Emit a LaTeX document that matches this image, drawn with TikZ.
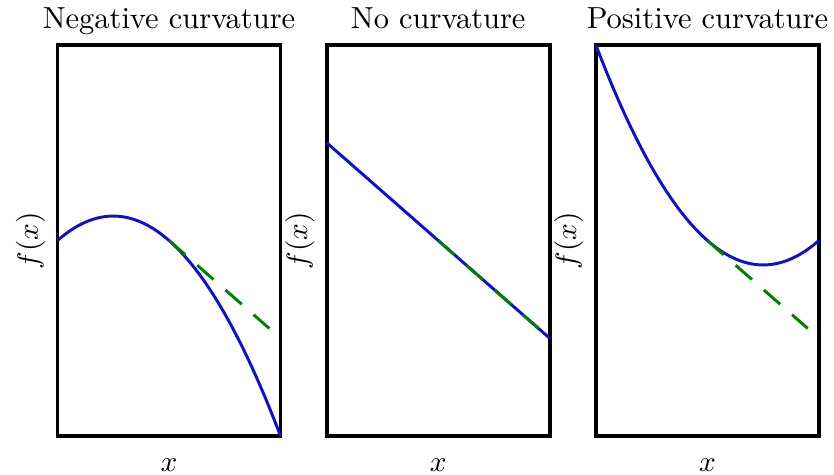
\documentclass[tikz,border=0pt]{standalone}
\definecolor{mplgreen}{RGB}{0,128,0}
\definecolor{mplblue}{RGB}{15,15,210}
\begin{document}
\begin{tikzpicture}[
	x=0.012cm, y=0.012cm,
	every node/.style={ font=\fontsize{10.4}{12.5}\selectfont },
	frame/.style={ draw, line width=1.3pt, inner sep=0pt, outer sep=0pt, minimum width=2.676cm, minimum height=4.692cm },
	curve/.style={ mplblue, line width=1pt },
	tangent/.style={ mplgreen, line width=1pt, dash pattern=on 7.4pt off 5.4pt }
]

\useasboundingbox (0,0) rectangle (834,474);

\foreach \k/\i/\name in {-1/1/Negative curvature, 0/2/No curvature, 1/3/Positive curvature} {
	\pgfmathsetmacro\l{57.5+269.2*(\i-1)}
	\node[frame] at ({\l+111.5},233.5) (box\i) {};
	\node[anchor=base] at ({\l+111.5},445) (title\i) {\name};
	\node[rotate=90] at ({\l-27},233.5) (ylab\i) {$f(x)$};
	\node[anchor=base] at ({\l+111.5},3) (xlab\i) {$x$};
	% f(u) = 1/2 - (u-1/2)/2 + k (u-1/2)^2
	\draw[curve] plot[domain=0:1, samples=80] ({\l+223*\x},{38+391*(0.5-0.5*(\x-0.5)+\k*(\x-0.5)*(\x-0.5))});
	\draw[tangent] ({\l+111.5},233.5) -- ({\l+211.85},145.5);
}

\end{tikzpicture}
\end{document}
